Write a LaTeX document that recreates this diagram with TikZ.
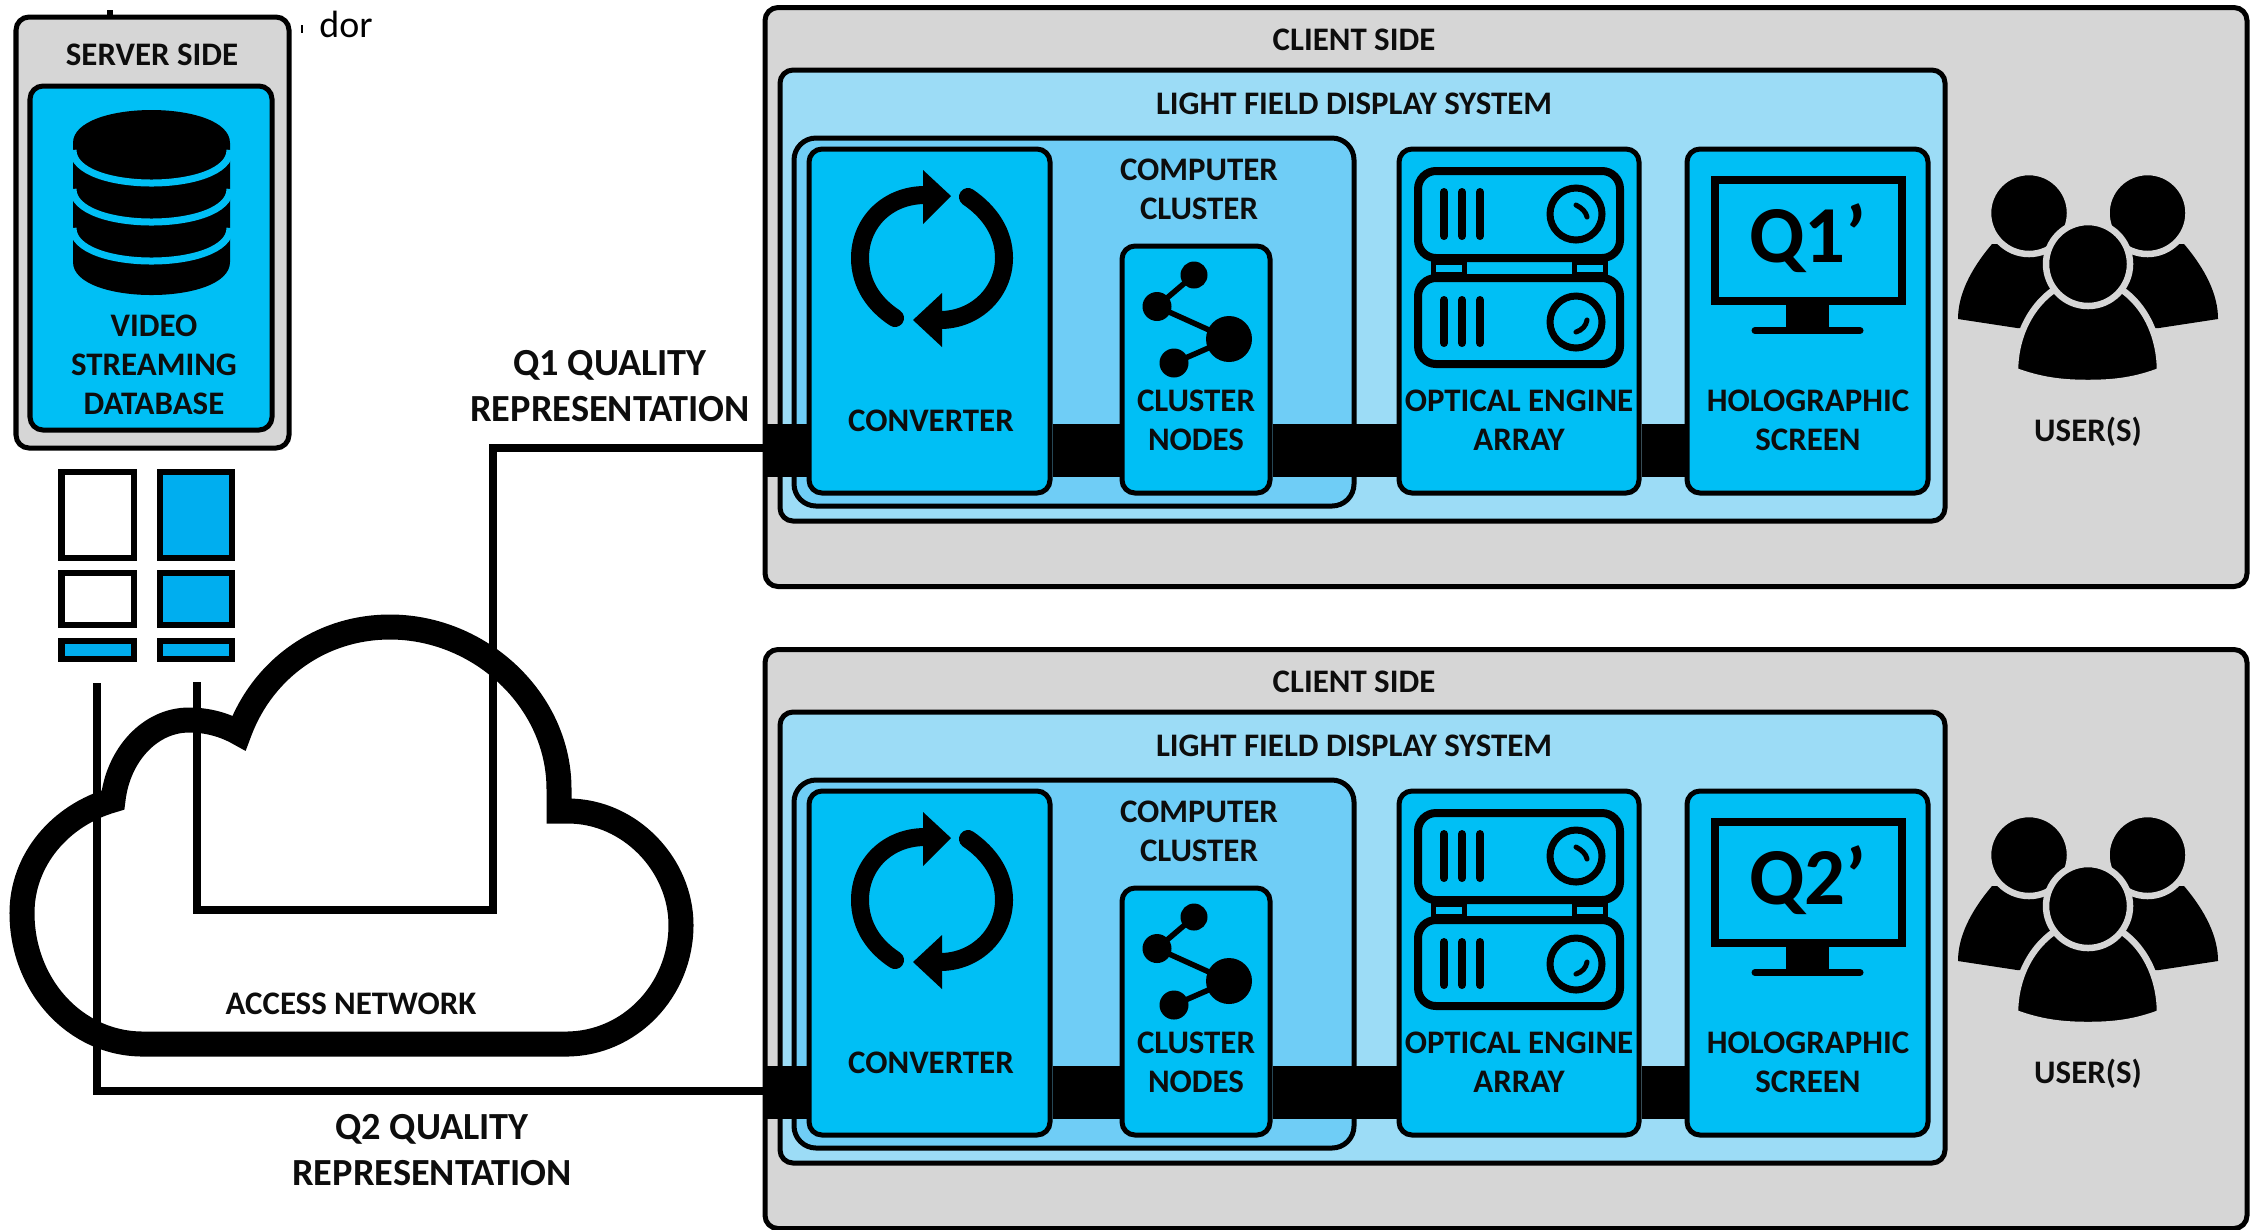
\documentclass[tikz,border=0pt]{standalone}
\usepackage{fontspec}
\setmainfont{Carlito}
\definecolor{sidegray}{HTML}{D6D6D6}
\definecolor{lfdblue}{HTML}{9CDCF6}
\definecolor{clusterblue}{HTML}{6FCDF6}
\definecolor{unitblue}{HTML}{00BFF5}
\definecolor{segblue}{HTML}{00AEEF}
\tikzset{
  SizeBox/.style 2 args = {minimum width = #1*0.01cm, minimum height = #2*0.01cm},
  PanelStyle/.style = {rectangle, draw, line width = 0.05cm, rounded corners = 0.13cm, inner sep = 0pt},
  SegStyle/.style = {rectangle, draw, line width = 0.06cm, inner sep = 0pt},
  LabelStyle/.style = {font = \bfseries\fontsize{9.35}{11.1}\selectfont, align = center, inner sep = 0pt, text = black!95},
  BigLabel/.style = {font = \bfseries\fontsize{10.9}{13.3}\selectfont, align = center, inner sep = 0pt, text = black!95},
  FeedStyle/.style = {draw, line width = 0.085cm, miter limit = 10},
  BusStyle/.style = {draw, line width = 0.53cm},
  IconLine/.style = {draw, line width = 0.08cm, rounded corners = 0.18cm},
  BarStyle/.style = {draw, line width = 0.08cm, line cap = round},
  Halo/.style = {fill = black, draw = sidegray, line width = 0.065cm}
}

\begin{document}
\begin{tikzpicture}[x=0.01cm,y=-0.01cm]
  \useasboundingbox (0,0) rectangle (2252,1229);

  \node[LabelStyle, font = \fontsize{10.8}{13}\selectfont, text = black] (scrap) at (346,24) {dor};
  \fill (107,10) rectangle (113,17);
  \fill (301,25) rectangle (303,33);

  \node[PanelStyle, fill = sidegray, SizeBox = {273}{431}] (server) at (152.5,232.5) {};
  \node[PanelStyle, fill = unitblue, SizeBox = {242}{344}] (base) at (151,258) {};
  \node[LabelStyle] (serverlab) at (152,55) {SERVER SIDE};
  \fill (73,143) -- (73,262) .. controls (73,306) and (230,306) .. (230,262)
     -- (230,143) .. controls (230,99) and (73,99) .. (73,143) -- cycle;
  \draw[unitblue, line width = 0.07cm] (73,150) .. controls (73,194) and (230,194) .. (230,150);
  \draw[unitblue, line width = 0.07cm] (73,189) .. controls (73,233) and (230,233) .. (230,189);
  \draw[unitblue, line width = 0.07cm] (73,228) .. controls (73,272) and (230,272) .. (230,228);
  \node[LabelStyle] (baselab) at (154,365) {VIDEO\\STREAMING\\DATABASE};

  \node[SegStyle, fill = white, SizeBox = {72}{86}] (segA1) at (97.5,514.5) {};
  \node[SegStyle, fill = white, SizeBox = {72}{52}] (segA2) at (97.5,598.5) {};
  \node[SegStyle, fill = segblue, SizeBox = {72}{18}] (segA3) at (97.5,649.5) {};
  \node[SegStyle, fill = segblue, SizeBox = {72}{86}] (segB1) at (195.5,514.5) {};
  \node[SegStyle, fill = segblue, SizeBox = {72}{52}] (segB2) at (195.5,598.5) {};
  \node[SegStyle, fill = segblue, SizeBox = {72}{18}] (segB3) at (195.5,649.5) {};

  \draw[fill = white, line width = 0.25cm, miter limit = 10] (113,800)
     .. controls (60,815) and (22,860) .. (22,913)
     .. controls (22,985) and (75,1044) .. (143,1044) -- (566,1044)
     .. controls (630,1044) and (681,990) .. (681,925)
     .. controls (681,865) and (630,811) .. (568,811) -- (559,811) -- (559,789)
     .. controls (559,700) and (480,627) .. (390,627)
     .. controls (320,627) and (262,670) .. (239,733)
     .. controls (225,725) and (208,720) .. (189,720)
     .. controls (150,720) and (118,755) .. (113,800) -- cycle;
  \node[LabelStyle] (netlab) at (351,1004) {ACCESS NETWORK};

  \coordinate (q1start) at (197,682);
  \coordinate (q1low) at (493,910);
  \coordinate (q1end) at (770,448);
  \coordinate (q2start) at (97,683);
  \coordinate (q2end) at (770,1091);
  \draw[FeedStyle] (q1start) |- (q1low) |- (q1end);
  \draw[FeedStyle] (q2start) |- (q2end);
  \node[BigLabel] (q1lab) at (610,386) {Q1 QUALITY\\REPRESENTATION};
  \node[BigLabel] (q2lab) at (432,1150) {Q2 QUALITY\\REPRESENTATION};

  \foreach \off/\q in {0/1,642/2}{
  \begin{scope}[shift={(0,\off)}]
    \node[PanelStyle, fill = sidegray, SizeBox = {1482}{579}] (client\q) at (1506,297) {};
    \node[PanelStyle, fill = lfdblue, SizeBox = {1165}{451}] (lfd\q) at (1362.5,295.5) {};
    \node[PanelStyle, fill = clusterblue, rounded corners = 0.22cm, SizeBox = {560}{368}] (cluster\q) at (1074,322) {};
    \node[LabelStyle] (clientlab\q) at (1354,40) {CLIENT SIDE};
    \node[LabelStyle] (lfdlab\q) at (1354,104) {LIGHT FIELD DISPLAY SYSTEM};
    \node[LabelStyle] (clusterlab\q) at (1199,189) {COMPUTER\\CLUSTER};
    \coordinate (bus\q) at (765,450);
    \node[PanelStyle, fill = unitblue, SizeBox = {241}{344}] (conv\q) at (929.5,321) {};
    \node[PanelStyle, fill = unitblue, SizeBox = {148}{247}] (nodes\q) at (1196,369.5) {};
    \node[PanelStyle, fill = unitblue, SizeBox = {240}{344}] (engine\q) at (1519,321) {};
    \node[PanelStyle, fill = unitblue, SizeBox = {241}{344}] (holo\q) at (1807.5,321) {};
    \draw[BusStyle] (bus\q) -- (conv\q.west |- bus\q);
    \draw[BusStyle] (conv\q.east |- bus\q) -- (nodes\q.west |- bus\q);
    \draw[BusStyle] (nodes\q.east |- bus\q) -- (engine\q.west |- bus\q);
    \draw[BusStyle] (engine\q.east |- bus\q) -- (holo\q.west |- bus\q);
    \node[LabelStyle] (convlab\q) at (931,421) {CONVERTER};
    \node[LabelStyle] (nodeslab\q) at (1196,420) {CLUSTER\\NODES};
    \node[LabelStyle] (enginelab\q) at (1519,420) {OPTICAL ENGINE\\ARRAY};
    \node[LabelStyle] (hololab\q) at (1808,420) {HOLOGRAPHIC\\SCREEN};
    \node[LabelStyle] (userlab\q) at (2088,432) {USER(S)};

    \draw[line width = 0.18cm, line cap = round] (895,318) .. controls (875,305) and (860,285) .. (860,258)
       .. controls (860,222) and (888,195) .. (925,195);
    \fill (923,170) -- (951,196) -- (923,224) -- cycle;
    \draw[line width = 0.18cm, line cap = round] (968,197) .. controls (990,212) and (1004,233) .. (1004,258)
       .. controls (1004,292) and (976,320) .. (940,320);
    \fill (942,293) -- (913,320) -- (942,347) -- cycle;

    \draw[line width = 0.055cm] (1194,275) -- (1157,306.5) -- (1229,339) -- (1174,363);
    \fill (1194,275) circle (13.5);
    \fill (1157,306.5) circle (14.5);
    \fill (1229,339) circle (23);
    \fill (1174,363) circle (14.5);

    \draw[line width = 0.05cm] (1433,262) rectangle (1464,274);
    \draw[line width = 0.05cm] (1574,262) rectangle (1605,274);
    \draw[IconLine] (1418,171) rectangle (1620,258);
    \draw[IconLine] (1418,278) rectangle (1620,364);
    \foreach \b in {1444,1462,1480}{
      \draw[BarStyle] (\b,192) -- (\b,236);
      \draw[BarStyle] (\b,300) -- (\b,343);
    }
    \draw[line width = 0.07cm] (1576,214) circle (26);
    \draw[line width = 0.07cm] (1576,322) circle (26);
    \draw[line width = 0.05cm, line cap = round] (1576,205) .. controls (1582,208) and (1586,212) .. (1587,217);
    \draw[line width = 0.05cm, line cap = round] (1587,320) .. controls (1586,326) and (1582,330) .. (1576,332);

    \draw[line width = 0.08cm] (1715,180) rectangle (1902,301);
    \fill (1786,301) rectangle (1829,330);
    \draw[line width = 0.07cm, line cap = round] (1755,330.5) -- (1860,330.5);
    \node[BigLabel, font = \bfseries\fontsize{23}{25}\selectfont, text = black] (qprime\q) at (1808,238) {Q\q’};

    \fill (1992,244) .. controls (1970,270) and (1958,295) .. (1958,319) -- (2017,328) -- (2060,330) -- (2060,244) -- cycle;
    \fill (2184,244) .. controls (2206,270) and (2218,295) .. (2218,319) -- (2159,328) -- (2116,330) -- (2116,244) -- cycle;
    \draw[Halo] (2029,213) circle (41);
    \draw[Halo] (2147.5,213) circle (41);
    \draw[Halo] (2060,286) .. controls (2032,302) and (2015,335) .. (2015,371)
       .. controls (2040,380) and (2060,383) .. (2088,383) .. controls (2116,383) and (2136,380) .. (2160,371)
       .. controls (2160,335) and (2144,302) .. (2116,286) -- cycle;
    \draw[Halo] (2088,264) circle (42);
  \end{scope}
  }
\end{tikzpicture}
\end{document}
